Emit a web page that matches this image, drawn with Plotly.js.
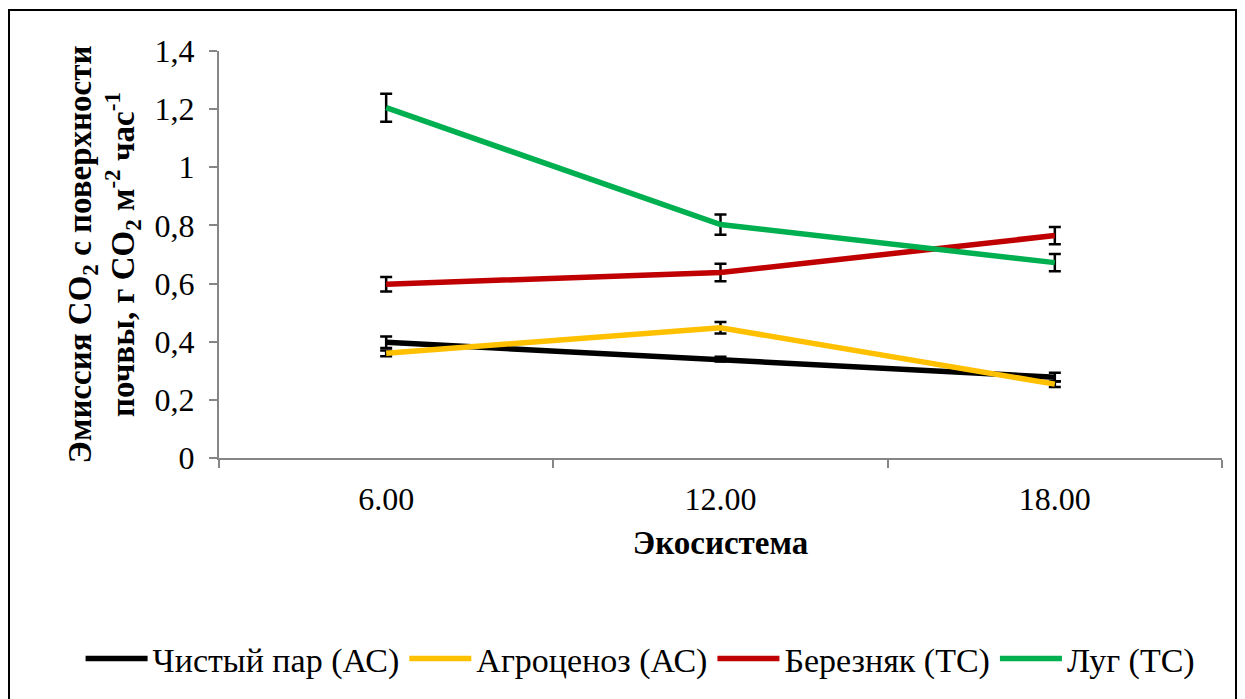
<!DOCTYPE html>
<html><head><meta charset="utf-8">
<script src="https://cdn.plot.ly/plotly-3.0.1.min.js"></script>
<style>
body{margin:0;background:#fff;}
#wrap{position:absolute;left:0;top:0;width:1245px;height:699px;}
#frame{position:absolute;left:8px;top:9px;width:1229px;height:700px;border:2px solid #000;box-sizing:border-box;pointer-events:none;z-index:5;}
#chart{width:1245px;height:699px;}
</style></head>
<body><div id="wrap"><div id="chart"></div><div id="frame"></div></div>
<script>
const categories = ["6.00", "12.00", "18.00"];
const seriesNames = ["Чистый пар (АС)", "Агроценоз (АС)", "Березняк (ТС)", "Луг (ТС)"];
const chistyPar = [0.398, 0.340, 0.278];
const chistyParErr = [0.02, 0.008, 0.015];
const agrocenoz = [0.360, 0.448, 0.254];
const agrocenozErr = [0.01, 0.02, 0.01];
const bereznyak = [0.598, 0.638, 0.765];
const bereznyakErr = [0.025, 0.03, 0.03];
const lug = [1.205, 0.803, 0.672];
const lugErr = [0.048, 0.035, 0.03];
const colors = ["#000000", "#FFC000", "#C00000", "#00B050"];
const values = [chistyPar, agrocenoz, bereznyak, lug];
const errs = [chistyParErr, agrocenozErr, bereznyakErr, lugErr];

const traces = values.map((v, i) => ({
  type: 'scatter', mode: 'lines', x: categories, y: v, name: seriesNames[i],
  line: {color: colors[i], width: 5.5},
  error_y: {type: 'data', array: errs[i], visible: true, color: '#000', thickness: 2.5, width: 6}
}));

const FAM = 'Liberation Serif';
const layout = {
  width: 1245, height: 699,
  paper_bgcolor: '#fff', plot_bgcolor: '#fff',
  margin: {l: 219, r: 23, t: 51, b: 240},
  font: {family: FAM, size: 30, color: '#000'},
  showlegend: true,
  legend: {orientation: 'h', xref: 'paper', yref: 'paper', x: -0.138, xanchor: 'left', y: -0.49, yanchor: 'middle',
    font: {family: FAM, size: 34, color: '#000'}, tracegroupgap: 0, itemwidth: 62},
  xaxis: {type: 'category', range: [-0.5, 2.5], showgrid: false, zeroline: false,
    showline: true, linecolor: '#868686', linewidth: 2,
    ticks: 'outside', tickson: 'boundaries', ticklen: 8, tickcolor: '#868686', tickwidth: 2,
    ticklabelstandoff: 12,
    tickfont: {family: FAM, size: 32, color: '#000'},
    title: {text: '<b>Экосистема</b>', font: {family: FAM, size: 33, color: '#000'}, standoff: 14}},
  yaxis: {range: [0, 1.4], dtick: 0.2, tickformat: '.1~f',
    showgrid: false, zeroline: false, showline: true, linecolor: '#868686', linewidth: 2,
    ticks: 'outside', ticklen: 8, tickcolor: '#868686', tickwidth: 2,
    ticklabelstandoff: 8,
    tickfont: {family: FAM, size: 32, color: '#000'},
    title: {text: '<b>Эмиссия CO<sub>2</sub> с поверхности<br>почвы, г CO<sub>2</sub> м<sup>-2</sup> час<sup>-1</sup></b>', font: {family: FAM, size: 33, color: '#000'}, standoff: 10}},
  separators: ', '
};
Plotly.newPlot('chart', traces, layout, {displayModeBar: false, staticPlot: true});
</script></body></html>
